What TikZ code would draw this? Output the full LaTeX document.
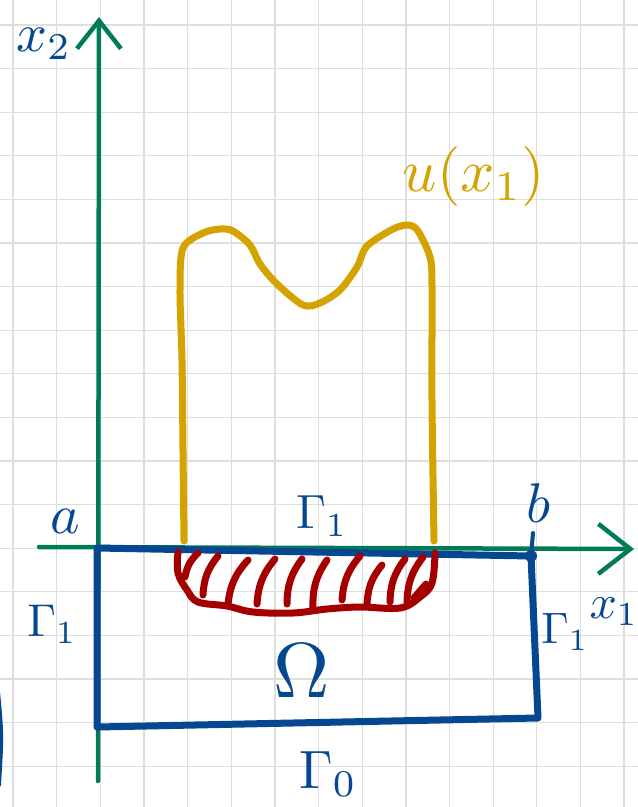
\documentclass[tikz,border=0pt]{standalone}
\usepackage{graphicx}
\usetikzlibrary{arrows.meta}
\definecolor{gridc}{RGB}{222,222,222}
\definecolor{axisg}{RGB}{0,122,88}
\definecolor{penblue}{RGB}{5,72,145}
\definecolor{pengold}{RGB}{212,163,0}
\definecolor{penred}{RGB}{165,0,0}
\newcommand{\hwlabel}[2]{\scalebox{#1}{$#2$}}
\begin{document}
\begin{tikzpicture}[x=1pt,y=-1pt,
  gridline/.style={draw=gridc,line width=1.3pt},
  axisline/.style={draw=axisg,line width=4.5pt,line cap=round,line join=round},
  bluepen/.style={draw=penblue,line width=7pt,line cap=round,line join=round},
  goldpen/.style={draw=pengold,line width=7pt,line cap=round,line join=round},
  redpen/.style={draw=penred,line width=7pt,line cap=round,line join=round},
  lbl/.style={text=penblue,inner sep=0pt},
  ulbl/.style={text=pengold,inner sep=0pt}]
\useasboundingbox[fill=white] (0,0) rectangle (638,807);
% grid
\foreach \i in {0,...,14} \draw[gridline] ({13+43.65*\i},0) -- ({13+43.65*\i},807);
\foreach \j in {0,...,17} \draw[gridline] (0,{25+43.6*\j}) -- (638,{25+43.6*\j});
% axes
\coordinate (ybot) at (98,781);
\coordinate (ytop) at (99,17);
\coordinate (xl) at (39,547);
\coordinate (xr) at (634,549);
\draw[axisline,-{Straight Barb[length=28pt,width=44pt]}] (ybot) -- (ytop);
\draw[axisline,-{Straight Barb[length=32pt,width=50pt]}] (xl) -- (xr);
% u(x1) curve
\draw[goldpen] plot[smooth,tension=0.5] coordinates {(184,541) (183,450) (182,360) (180,290) (183,248) (203,233) (220,229) (233,231) (250,245) (260,264) (277,284) (303,305) (320,303) (340,290) (357,267) (367,246) (393,229) (408,225) (418,231) (430,257) (432,285) (432,400) (434,541)};
% domain rectangle
\coordinate (A) at (97,548);
\coordinate (B) at (531,556);
\coordinate (C) at (538,718);
\coordinate (D) at (97,727);
\draw[bluepen] (A) -- (B) -- (C) -- (D) -- cycle;
\fill[penblue] (B) circle (6pt);
\coordinate (bt1) at (533,533);
\draw[bluepen,line width=4pt] (bt1) -- (B);
% red hatched region
\draw[redpen] plot[smooth,tension=0.6] coordinates {(178,552) (178,573) (187,590) (198,602) (227,606) (253,612) (293,613) (327,609) (360,607) (400,608) (420,597) (432,583) (435,553)};
\foreach \xa/\ya/\xb/\yb in {185/577/198/553, 203/595/218/556, 228/604/248/560, 257/604/275/559, 287/604/302/559, 313/608/327/560, 342/600/360/556, 367/604/382/565, 390/602/405/559, 407/603/423/557}
  \draw[redpen] (\xa,\ya) to[bend left=18] (\xb,\yb);
\draw[redpen] (414,598) -- (426,584);
% left edge stroke
\draw[bluepen,line width=4pt] (-2,692) .. controls (2,735) .. (-1,785);
% labels
\node[lbl] (x2) at (44,44) {\hwlabel{5.4}{x_2}};
\node[lbl] (a) at (65,521) {\hwlabel{5.6}{a}};
\node[lbl] (b) at (539,503) {\hwlabel{5.6}{b}};
\node[lbl] (G1t) at (322,516) {\hwlabel{4.8}{\Gamma_1}};
\node[lbl] (G1l) at (52,624) {\hwlabel{4.6}{\Gamma_1}};
\node[lbl] (G1r) at (565,632) {\hwlabel{4.4}{\Gamma_1}};
\node[lbl] (x1) at (614,612) {\hwlabel{4.8}{x_1}};
\node[lbl] (Om) at (302,671) {\hwlabel{7.8}{\Omega}};
\node[lbl] (G0) at (328,774) {\hwlabel{5.4}{\Gamma_0}};
\node[ulbl] (u) at (474,176) {\hwlabel{6}{u(x_1)}};
\end{tikzpicture}
\end{document}
